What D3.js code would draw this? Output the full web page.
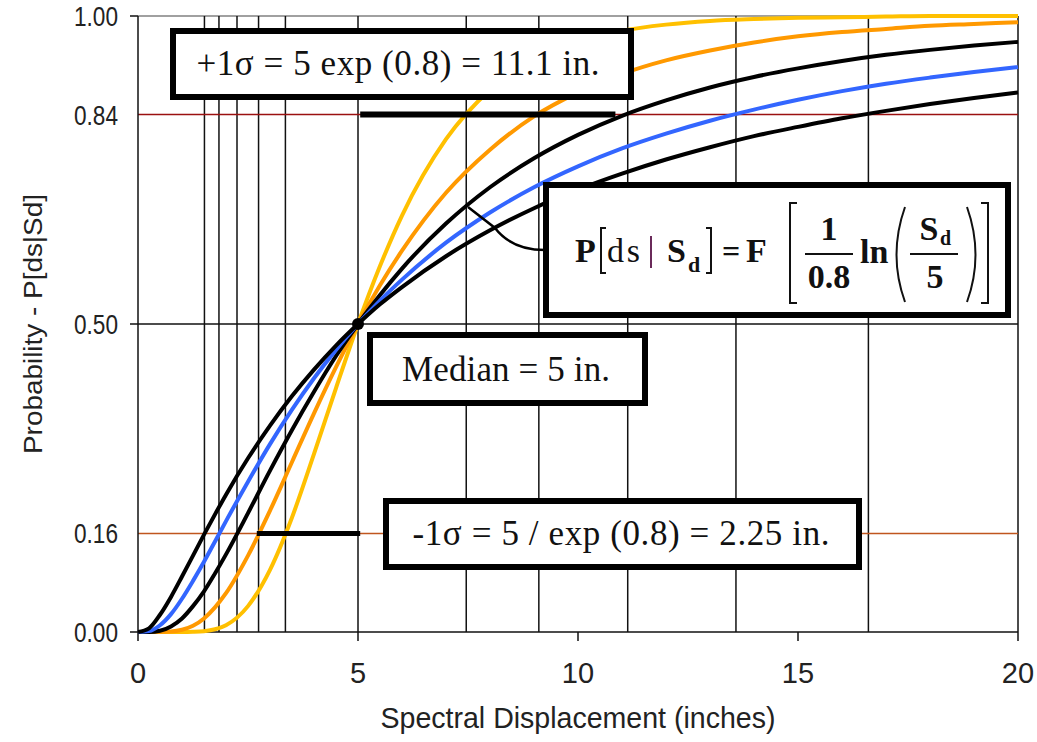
<!DOCTYPE html>
<html>
<head>
<meta charset="utf-8">
<script src="https://cdn.jsdelivr.net/npm/d3@7"></script>
<style>
  body { margin: 0; background: white; }
  svg { display: block; }
</style>
</head>
<body>
<div id="chart"></div>
<script>
var WIDTH = 1037, HEIGHT = 742
var PLOT = {LEFT: 138, RIGHT: 1018, TOP: 16, BOTTOM: 632}

// spectral displacement (inches) where the curves were read
var sd = [0, 0.25, 0.5, 0.75, 1, 1.25, 1.5, 1.75, 2, 2.5, 3, 3.5, 4, 4.5, 5, 5.5, 6, 7, 8, 9, 10, 11, 12, 13, 14, 15, 16, 17, 18, 19, 20]

var p_yellow = [0, 0, 0, 0, 0, 0.0003, 0.0013, 0.0044, 0.011, 0.042, 0.101, 0.186, 0.289, 0.396, 0.5, 0.594, 0.676, 0.800, 0.880, 0.929, 0.958, 0.976, 0.986, 0.992, 0.995, 0.997, 0.998, 0.999, 1, 1, 1]
var p_orange = [0, 0, 0.0001, 0.0008, 0.0037, 0.010, 0.022, 0.040, 0.063, 0.124, 0.197, 0.276, 0.355, 0.430, 0.5, 0.563, 0.619, 0.713, 0.783, 0.837, 0.876, 0.906, 0.928, 0.944, 0.957, 0.967, 0.974, 0.979, 0.984, 0.987, 0.990]
var p_black1 = [0, 0.0001, 0.002, 0.009, 0.022, 0.042, 0.066, 0.095, 0.126, 0.193, 0.262, 0.328, 0.390, 0.448, 0.5, 0.547, 0.590, 0.663, 0.722, 0.769, 0.807, 0.838, 0.863, 0.884, 0.901, 0.915, 0.927, 0.937, 0.945, 0.952, 0.958]
var p_blue = [0, 0.0014, 0.011, 0.029, 0.054, 0.083, 0.114, 0.147, 0.180, 0.244, 0.305, 0.361, 0.412, 0.458, 0.5, 0.538, 0.572, 0.632, 0.681, 0.722, 0.756, 0.785, 0.809, 0.830, 0.848, 0.864, 0.878, 0.890, 0.900, 0.909, 0.917]
var p_black2 = [0, 0.006, 0.028, 0.057, 0.090, 0.124, 0.158, 0.191, 0.223, 0.282, 0.335, 0.383, 0.426, 0.465, 0.5, 0.532, 0.560, 0.610, 0.652, 0.688, 0.718, 0.744, 0.767, 0.787, 0.805, 0.820, 0.834, 0.846, 0.857, 0.867, 0.876]

var series = [
  {name: 'beta 0.4', color: '#FFC000', values: p_yellow},
  {name: 'beta 0.6', color: '#FF9900', values: p_orange},
  {name: 'beta 0.8', color: '#000000', values: p_black1},
  {name: 'beta 1.0', color: '#3366FF', values: p_blue},
  {name: 'beta 1.2', color: '#000000', values: p_black2}
]

// vertical lines at the +/- 1 sigma points of each curve
var grid_x = [1.51, 1.84, 2.25, 2.74, 3.35, 5, 7.46, 9.11, 11.13, 13.59, 16.6, 20]
var x_ticks = [0, 5, 10, 15, 20]
var y_labels = [0, 0.16, 0.5, 0.84, 1]
var y_ticks = [0, 0.5, 1]
var median = {sd: 5, p: 0.5}

var svg = d3.select('#chart').append('svg')
  .attr('width', WIDTH)
  .attr('height', HEIGHT)

var x = d3.scaleLinear().domain([0, 20]).range([PLOT.LEFT, PLOT.RIGHT])
var y = d3.scaleLinear().domain([0, 1]).range([PLOT.BOTTOM, PLOT.TOP])

var SANS = "'Liberation Sans', Arial, sans-serif"
var SERIF = "'Liberation Serif', 'Times New Roman', serif"

// top frame line
svg.append('line')
  .attr('x1', x(0)).attr('x2', x(20))
  .attr('y1', y(1)).attr('y2', y(1))
  .style('stroke', '#808080').style('stroke-width', 1.5)

svg.selectAll('.vgrid')
  .data(grid_x)
  .enter()
  .append('line')
  .attr('class', 'vgrid')
  .attr('x1', function(d){ return x(d) })
  .attr('x2', function(d){ return x(d) })
  .attr('y1', y(0)).attr('y2', y(1))
  .style('stroke', '#111').style('stroke-width', 1.5)

// horizontal reference lines
svg.append('line')
  .attr('x1', x(0)).attr('x2', x(20))
  .attr('y1', y(0.5)).attr('y2', y(0.5))
  .style('stroke', '#111').style('stroke-width', 1.5)
svg.append('line')
  .attr('x1', x(0)).attr('x2', x(20))
  .attr('y1', y(0.84)).attr('y2', y(0.84))
  .style('stroke', '#9B1010').style('stroke-width', 1.5)
svg.append('line')
  .attr('x1', x(0)).attr('x2', x(20))
  .attr('y1', y(0.16)).attr('y2', y(0.16))
  .style('stroke', '#C0561E').style('stroke-width', 1.5)

// axes
svg.append('line')
  .attr('x1', x(0)).attr('x2', x(0))
  .attr('y1', y(0)).attr('y2', y(1))
  .style('stroke', '#111').style('stroke-width', 1.5)
svg.append('line')
  .attr('x1', x(0)).attr('x2', x(20))
  .attr('y1', y(0)).attr('y2', y(0))
  .style('stroke', '#111').style('stroke-width', 1.5)

svg.selectAll('.xtick')
  .data(x_ticks)
  .enter()
  .append('line')
  .attr('class', 'xtick')
  .attr('x1', function(d){ return x(d) })
  .attr('x2', function(d){ return x(d) })
  .attr('y1', y(0)).attr('y2', y(0) + 9)
  .style('stroke', '#111').style('stroke-width', 1.5)

svg.selectAll('.xlabel')
  .data(x_ticks)
  .enter()
  .append('text')
  .attr('class', 'xlabel')
  .attr('x', function(d){ return x(d) })
  .attr('y', 683)
  .attr('text-anchor', 'middle')
  .style('font-family', SANS)
  .style('font-size', '29px')
  .style('fill', '#222')
  .text(function(d){ return d })

svg.selectAll('.ytick')
  .data(y_ticks)
  .enter()
  .append('line')
  .attr('class', 'ytick')
  .attr('x1', x(0) - 8).attr('x2', x(0))
  .attr('y1', function(d){ return y(d) })
  .attr('y2', function(d){ return y(d) })
  .style('stroke', '#111').style('stroke-width', 1.5)

svg.selectAll('.ylabel')
  .data(y_labels)
  .enter()
  .append('text')
  .attr('class', 'ylabel')
  .attr('x', 118)
  .attr('y', function(d){ return y(d) + 10 })
  .attr('text-anchor', 'end')
  .attr('textLength', 44)
  .attr('lengthAdjust', 'spacingAndGlyphs')
  .style('font-family', SANS)
  .style('font-size', '27px')
  .style('fill', '#222')
  .text(function(d){ return d3.format('.2f')(d) })

svg.append('text')
  .attr('x', 578)
  .attr('y', 728)
  .attr('text-anchor', 'middle')
  .attr('textLength', 395)
  .attr('lengthAdjust', 'spacingAndGlyphs')
  .style('font-family', SANS)
  .style('font-size', '29px')
  .style('fill', '#222')
  .text('Spectral Displacement (inches)')

svg.append('text')
  .attr('transform', 'translate(42,' + y(0.5) + ') rotate(-90)')
  .attr('text-anchor', 'middle')
  .attr('textLength', 260)
  .attr('lengthAdjust', 'spacingAndGlyphs')
  .style('font-family', SANS)
  .style('font-size', '26px')
  .style('fill', '#222')
  .text('Probability - P[ds|Sd]')

// fragility curves
var line = d3.line()
  .x(function(d){ return x(d[0]) })
  .y(function(d){ return y(d[1]) })
  .curve(d3.curveMonotoneX)

svg.selectAll('.curve')
  .data(series)
  .enter()
  .append('path')
  .attr('class', 'curve')
  .attr('d', function(s){ return line(sd.map(function(v, i){ return [v, s.values[i]] })) })
  .style('fill', 'none')
  .style('stroke', function(s){ return s.color })
  .style('stroke-width', 4)
  .style('stroke-linejoin', 'round')

svg.append('circle')
  .attr('cx', x(median.sd))
  .attr('cy', y(median.p))
  .attr('r', 6)
  .style('fill', '#000')

// pointer bars to the sigma points
svg.append('line')
  .attr('x1', x(5.05)).attr('x2', x(10.85))
  .attr('y1', y(0.84)).attr('y2', y(0.84))
  .style('stroke', '#000').style('stroke-width', 6)
svg.append('line')
  .attr('x1', x(2.7)).attr('x2', x(5.05))
  .attr('y1', y(0.16)).attr('y2', y(0.16))
  .style('stroke', '#000').style('stroke-width', 5)

// connector from formula box to the 0.8 curve
svg.append('path')
  .attr('d', 'M' + x(7.5) + ',' + y(0.69) + ' L495,228 Q512,250 545,250')
  .style('fill', 'none')
  .style('stroke', '#000')
  .style('stroke-width', 2.5)

function box(x0, y0, x1, y1){
  svg.append('rect')
    .attr('x', x0 + 3).attr('y', y0 + 3)
    .attr('width', x1 - x0 - 6).attr('height', y1 - y0 - 6)
    .style('fill', 'white')
    .style('stroke', '#000')
    .style('stroke-width', 6)
}

function label(tx, ty, txt, size, anchor, weight){
  return svg.append('text')
    .attr('x', tx).attr('y', ty)
    .attr('text-anchor', anchor || 'start')
    .style('font-family', SERIF)
    .style('font-size', size + 'px')
    .style('font-weight', weight || 'normal')
    .style('fill', '#111')
    .text(txt)
}

box(170, 28, 634, 100)
label(398, 75, '+1σ = 5 exp (0.8) = 11.1 in.', 35, 'middle').attr('textLength', 403)

box(367, 332, 648, 406)
label(506, 381, 'Median = 5 in.', 35, 'middle').attr('textLength', 208)

box(383, 498, 862, 570)
label(621, 545, '-1σ = 5 / exp (0.8) = 2.25 in.', 35, 'middle').attr('textLength', 417)

// formula box
box(543, 182, 1011, 318)
label(575, 262, 'P', 34, 'start', 'bold')
label(607, 262, 'ds', 34, 'start', 'normal').attr('textLength', 33)
label(667, 262, 'S', 34, 'start', 'bold')
label(688, 272, 'd', 22, 'start', 'bold')
label(722, 262, '=', 32, 'start', 'bold')
label(746, 262, 'F', 34, 'start', 'bold')
label(829, 240, '1', 34, 'middle', 'bold')
label(829, 288, '0.8', 34, 'middle', 'bold')
label(860, 263, 'ln', 34, 'start', 'bold')
label(929, 240, 'S', 34, 'middle', 'bold')
label(940, 245, 'd', 20, 'start', 'bold')
label(935, 288, '5', 34, 'middle', 'bold')

var strokes = [
  'M606,228 L601,228 L601,273 L606,273',
  'M706,228 L711,228 L711,273 L706,273',
  'M797,203 L790,203 L790,303 L797,303',
  'M981,203 L988,203 L988,303 L981,303',
  'M905,207 Q888,255 905,302',
  'M967,207 Q984,255 967,302'
]
svg.selectAll('.fbr')
  .data(strokes)
  .enter()
  .append('path')
  .attr('class', 'fbr')
  .attr('d', function(d){ return d })
  .style('fill', 'none')
  .style('stroke', '#111')
  .style('stroke-width', 2)

svg.append('line')
  .attr('x1', 651).attr('x2', 651).attr('y1', 236).attr('y2', 268)
  .style('stroke', '#6a2a5a').style('stroke-width', 2)
svg.append('line')
  .attr('x1', 805).attr('x2', 853).attr('y1', 254).attr('y2', 254)
  .style('stroke', '#111').style('stroke-width', 2)
svg.append('line')
  .attr('x1', 910).attr('x2', 958).attr('y1', 254).attr('y2', 254)
  .style('stroke', '#111').style('stroke-width', 2)
</script>
</body>
</html>
